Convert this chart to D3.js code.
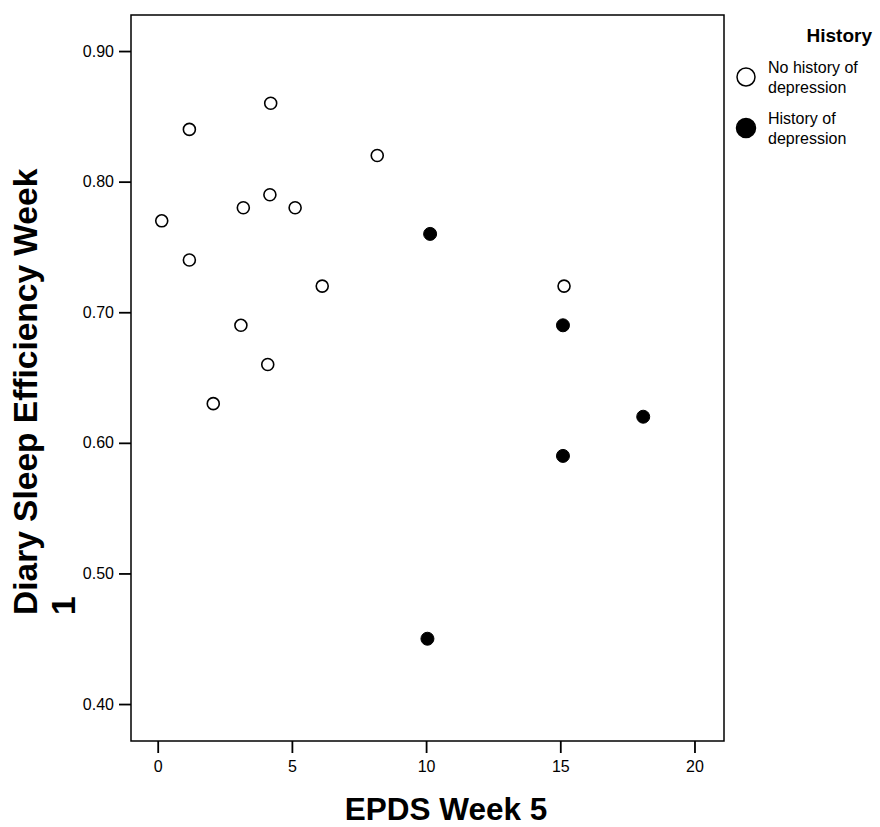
<!DOCTYPE html>
<html>
<head>
<meta charset="utf-8">
<script src="https://cdn.jsdelivr.net/npm/d3@7"></script>
<style>
  body { margin: 0; background: #fff; }
  svg { display: block; font-family: "Liberation Sans", Arial, sans-serif; }
</style>
</head>
<body>
<svg width="880" height="827"></svg>
<script>
// EPDS week 5 vs diary sleep efficiency, split by depression history
const noHistEpds  = [0.15, 1.18, 1.18, 2.07, 3.19, 3.1, 4.21, 4.18, 4.1, 5.12, 6.13, 8.18, 15.14];
const noHistSleep = [0.77, 0.84, 0.74, 0.63, 0.78, 0.69, 0.86, 0.79, 0.66, 0.78, 0.72, 0.82, 0.72];
const histEpds    = [10.15, 15.1, 15.1, 18.09, 10.05];
const histSleep   = [0.76, 0.69, 0.59, 0.62, 0.45];

const xTicks = [0, 5, 10, 15, 20];
const yTicks = [0.40, 0.50, 0.60, 0.70, 0.80, 0.90];
const legendLabels = [["No history of", "depression"], ["History of", "depression"]];

const svg = d3.select("svg");
const plotL = 131, plotR = 724, plotT = 15, plotB = 741;

const x = d3.scaleLinear().domain([-0.995, 21.1]).range([plotL, plotR]);
const y = d3.scaleLinear().domain([0.3717, 0.9276]).range([plotB, plotT]);

// frame
svg.append("rect")
    .attr("x", plotL).attr("y", plotT)
    .attr("width", plotR - plotL).attr("height", plotB - plotT)
    .attr("fill", "none").attr("stroke", "#000").attr("stroke-width", 1.5);

const xAxis = svg.append("g")
    .attr("transform", `translate(0,${plotB})`)
    .call(d3.axisBottom(x).tickValues(xTicks).tickSize(12).tickPadding(8).tickFormat(d3.format("d")));
const yAxis = svg.append("g")
    .attr("transform", `translate(${plotL},0)`)
    .call(d3.axisLeft(y).tickValues(yTicks).tickSize(12).tickPadding(5).tickFormat(d3.format(".2f")));

[xAxis, yAxis].forEach(a => {
    a.select(".domain").remove();
    a.selectAll(".tick line").attr("stroke", "#000").attr("stroke-width", 1.8);
    a.selectAll(".tick text").attr("fill", "#000").attr("font-size", 16)
        .attr("font-family", "'Liberation Sans', Arial, sans-serif");
});

// points
const noHist = noHistEpds.map((v, i) => ({ x: v, y: noHistSleep[i] }));
const hist = histEpds.map((v, i) => ({ x: v, y: histSleep[i] }));

svg.append("g").selectAll("circle")
    .data(noHist)
    .enter().append("circle")
    .attr("cx", d => x(d.x)).attr("cy", d => y(d.y))
    .attr("r", 6)
    .attr("fill", "#fff").attr("stroke", "#000").attr("stroke-width", 1.6);

svg.append("g").selectAll("circle")
    .data(hist)
    .enter().append("circle")
    .attr("cx", d => x(d.x)).attr("cy", d => y(d.y))
    .attr("r", 6.5)
    .attr("fill", "#000").attr("stroke", "#000").attr("stroke-width", 1);

// axis titles
svg.append("text")
    .attr("x", 446).attr("y", 820)
    .attr("text-anchor", "middle")
    .attr("font-size", 31.5).attr("font-weight", "bold")
    .text("EPDS Week 5");

const yTitle = svg.append("text")
    .attr("transform", "translate(37,615) rotate(-90)")
    .attr("font-size", 33.5).attr("font-weight", "bold");
yTitle.append("tspan").attr("x", 0).attr("y", 0).text("Diary Sleep Efficiency Week");
yTitle.append("tspan").attr("x", 0).attr("y", 38).text("1");

// legend
svg.append("text")
    .attr("x", 872).attr("y", 42)
    .attr("text-anchor", "end")
    .attr("font-size", 19).attr("font-weight", "bold")
    .text("History");

const legend = svg.append("g");
legendLabels.forEach((lines, i) => {
    const cy = 77 + i * 51;
    legend.append("circle")
        .attr("cx", 746).attr("cy", cy).attr("r", i === 0 ? 9 : 9.5)
        .attr("fill", i === 0 ? "#fff" : "#000")
        .attr("stroke", "#000").attr("stroke-width", 1.5);
    const t = legend.append("text")
        .attr("font-size", 16);
    lines.forEach((s, j) => {
        t.append("tspan").attr("x", 768).attr("y", cy - 4 + j * 20).text(s);
    });
});
</script>
</body>
</html>
